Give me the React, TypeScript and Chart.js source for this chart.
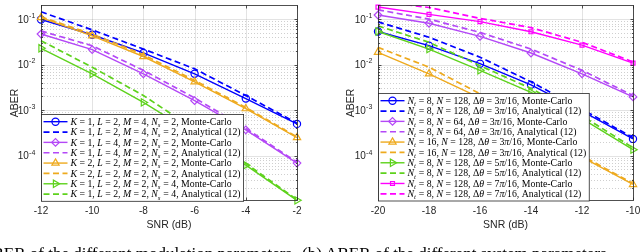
import React, { useEffect, useRef } from 'react';
import { Chart, registerables } from 'chart.js';
import { drawPoint } from 'chart.js/helpers';

Chart.register(...registerables);

// ---------------- data ----------------
const SNR_A = [-12, -10, -8, -6, -4, -2];
const SNR_B = [-20, -18, -16, -14, -12, -10];

// (a) modulation parameters
const A_BLUE_MC = [0.098, 0.0454, 0.0181, 0.0063, 0.0018, 0.0005];
const A_BLUE_AN = [0.145, 0.058, 0.022, 0.0081, 0.0021, 0.00052];
const A_PURPLE_MC = [0.047, 0.0214, 0.0063, 0.00162, 0.00037, 0.000069];
const A_PURPLE_AN = [0.055, 0.026, 0.0075, 0.00186, 0.0004, 0.000072];
const A_ORANGE_MC = [0.108, 0.043, 0.0151, 0.0042, 0.00108, 0.00025];
const A_ORANGE_AN = [0.112, 0.047, 0.0165, 0.0045, 0.00115, 0.00026];
const A_GREEN_MC = [0.0229, 0.0063, 0.00148, 0.0003, 0.000062, 0.0000105];
const A_GREEN_AN = [0.0336, 0.0088, 0.0021, 0.00038, 0.000068, 0.0000108];

// (b) system parameters
const B_BLUE_MC = [0.0535, 0.0261, 0.0105, 0.0036, 0.00095, 0.000234];
const B_BLUE_AN = [0.087, 0.04, 0.0146, 0.0042, 0.00105, 0.00025];
const B_PURPLE_MC = [0.123, 0.081, 0.0417, 0.018, 0.0063, 0.00196];
const B_PURPLE_AN = [0.16, 0.1, 0.051, 0.022, 0.0075, 0.0021];
const B_ORANGE_MC = [0.0187, 0.0063, 0.00186, 0.00045, 0.000093, 0.0000234];
const B_ORANGE_AN = [0.024, 0.0088, 0.0023, 0.00053, 0.0001, 0.0000245];
const B_GREEN_MC = [0.0535, 0.022, 0.0075, 0.00245, 0.00065, 0.000136];
const B_GREEN_AN = [0.071, 0.031, 0.0095, 0.003, 0.00075, 0.00015];
const B_MAGENTA_MC = [0.184, 0.127, 0.088, 0.0527, 0.0269, 0.0108];
const B_MAGENTA_AN = [0.25, 0.18, 0.104, 0.065, 0.031, 0.0115];

const LABELS_A = [
  '$K$ = 1, $L$ = 2, $M$ = 4, $N_s$ = 2, Monte-Carlo',
  '$K$ = 1, $L$ = 2, $M$ = 4, $N_s$ = 2, Analytical (12)',
  '$K$ = 1, $L$ = 4, $M$ = 2, $N_s$ = 2, Monte-Carlo',
  '$K$ = 1, $L$ = 4, $M$ = 2, $N_s$ = 2, Analytical (12)',
  '$K$ = 2, $L$ = 2, $M$ = 2, $N_s$ = 2, Monte-Carlo',
  '$K$ = 2, $L$ = 2, $M$ = 2, $N_s$ = 2, Analytical (12)',
  '$K$ = 1, $L$ = 2, $M$ = 2, $N_s$ = 4, Monte-Carlo',
  '$K$ = 1, $L$ = 2, $M$ = 2, $N_s$ = 4, Analytical (12)',
];
const LABELS_B = [
  '$N_t$ = 8, $N$ = 128, Δ$θ$ = 3$π$/16, Monte-Carlo',
  '$N_t$ = 8, $N$ = 128, Δ$θ$ = 3$π$/16, Analytical (12)',
  '$N_t$ = 8, $N$ = 64, Δ$θ$ = 3$π$/16, Monte-Carlo',
  '$N_t$ = 8, $N$ = 64, Δ$θ$ = 3$π$/16, Analytical (12)',
  '$N_t$ = 16, $N$ = 128, Δ$θ$ = 3$π$/16, Monte-Carlo',
  '$N_t$ = 16, $N$ = 128, Δ$θ$ = 3$π$/16, Analytical (12)',
  '$N_t$ = 8, $N$ = 128, Δ$θ$ = 5$π$/16, Monte-Carlo',
  '$N_t$ = 8, $N$ = 128, Δ$θ$ = 5$π$/16, Analytical (12)',
  '$N_t$ = 8, $N$ = 128, Δ$θ$ = 7$π$/16, Monte-Carlo',
  '$N_t$ = 8, $N$ = 128, Δ$θ$ = 7$π$/16, Analytical (12)',
];

const X_TITLE = 'SNR (dB)';
const Y_TITLE = 'ABER';
const CAPTION_A = 'ABER of the different modulation parameters';
const CAPTION_B = '(b) ABER of the different system parameters';
const Y_MIN = 1.04e-5;
const Y_MAX = 0.2;

// ---------------- styles ----------------
const BLUE = '#0000FF';
const PURPLE = '#B448F7';
const ORANGE = '#EEAA1E';
const GREEN = '#5ED21C';
const MAGENTA = '#FF00FF';
const AXIS = '#262626';
const SANS = '"Liberation Sans", Arial, sans-serif';
const SERIF = '"Liberation Serif", "Times New Roman", serif';
const LEGEND_FONT = 9.8;
const ROW_H = 10.35;

type Marker = { style: string; rot: number; r: number };
const M_CIRCLE: Marker = { style: 'circle', rot: 0, r: 3.6 };
const M_DIAMOND: Marker = { style: 'rectRot', rot: 0, r: 3.8 };
const M_TRI_UP: Marker = { style: 'triangle', rot: 0, r: 4.2 };
const M_TRI_RIGHT: Marker = { style: 'triangle', rot: 90, r: 4.2 };
const M_SQUARE: Marker = { style: 'rect', rot: 0, r: 2.8 };

type Series = { values: number[]; color: string; dashed: boolean; marker: Marker };

const SERIES_A: Series[] = [
  { values: A_BLUE_MC, color: BLUE, dashed: false, marker: M_CIRCLE },
  { values: A_BLUE_AN, color: BLUE, dashed: true, marker: M_CIRCLE },
  { values: A_PURPLE_MC, color: PURPLE, dashed: false, marker: M_DIAMOND },
  { values: A_PURPLE_AN, color: PURPLE, dashed: true, marker: M_DIAMOND },
  { values: A_ORANGE_MC, color: ORANGE, dashed: false, marker: M_TRI_UP },
  { values: A_ORANGE_AN, color: ORANGE, dashed: true, marker: M_TRI_UP },
  { values: A_GREEN_MC, color: GREEN, dashed: false, marker: M_TRI_RIGHT },
  { values: A_GREEN_AN, color: GREEN, dashed: true, marker: M_TRI_RIGHT },
];
const SERIES_B: Series[] = [
  { values: B_BLUE_MC, color: BLUE, dashed: false, marker: M_CIRCLE },
  { values: B_BLUE_AN, color: BLUE, dashed: true, marker: M_CIRCLE },
  { values: B_PURPLE_MC, color: PURPLE, dashed: false, marker: M_DIAMOND },
  { values: B_PURPLE_AN, color: PURPLE, dashed: true, marker: M_DIAMOND },
  { values: B_ORANGE_MC, color: ORANGE, dashed: false, marker: M_TRI_UP },
  { values: B_ORANGE_AN, color: ORANGE, dashed: true, marker: M_TRI_UP },
  { values: B_GREEN_MC, color: GREEN, dashed: false, marker: M_TRI_RIGHT },
  { values: B_GREEN_AN, color: GREEN, dashed: true, marker: M_TRI_RIGHT },
  { values: B_MAGENTA_MC, color: MAGENTA, dashed: false, marker: M_SQUARE },
  { values: B_MAGENTA_AN, color: MAGENTA, dashed: true, marker: M_SQUARE },
];

// rich text: $...$ = math (italic letters, _x subscript)
function richText(ctx: CanvasRenderingContext2D, text: string, x: number, y: number, size: number, draw: boolean): number {
  const parts = text.split('$');
  let cx = x;
  parts.forEach((p, i) => {
    if (i % 2 === 0) {
      ctx.font = `${size}px ${SERIF}`;
      if (draw) ctx.fillText(p, cx, y);
      cx += ctx.measureText(p).width;
    } else {
      let j = 0;
      while (j < p.length) {
        const ch = p[j];
        if (ch === '_') {
          const s = p[j + 1];
          ctx.font = `italic ${size * 0.7}px ${SERIF}`;
          if (draw) ctx.fillText(s, cx, y + size * 0.22);
          cx += ctx.measureText(s).width + 0.3;
          j += 2;
          continue;
        }
        ctx.font = `italic ${size}px ${SERIF}`;
        if (draw) ctx.fillText(ch, cx, y);
        cx += ctx.measureText(ch).width;
        j++;
      }
    }
  });
  return cx - x;
}

type PanelCfg = {
  xs: number[];
  series: Series[];
  labels: string[];
  axisLeft: number;
  axisRight: number;
  yTitlePad: number;
};

function makeChart(canvas: HTMLCanvasElement, cfg: PanelCfg): Chart {
  const W = canvas.width;
  const H = canvas.height;
  const top = 2.5;
  const bottom = 200.5;
  const xMin = cfg.xs[0];
  const xMax = cfg.xs[cfg.xs.length - 1];

  const datasets = cfg.series.map((s, i) => ({
    label: cfg.labels[i],
    data: s.values.map((v, k) => ({ x: cfg.xs[k], y: v })),
    borderColor: s.color,
    backgroundColor: s.color,
    borderWidth: s.dashed ? 1.7 : 1.4,
    borderDash: s.dashed ? [6, 3.5] : [],
    pointRadius: s.dashed ? 0 : s.marker.r,
    pointStyle: s.marker.style as any,
    pointRotation: s.marker.rot,
    pointBorderWidth: 1.2,
    pointBorderColor: s.color,
    pointBackgroundColor: 'rgba(0,0,0,0)',
    tension: 0,
    order: -i,
    clip: s.dashed ? { left: 2, right: 2, top: 0, bottom: 2 } : { left: 6, right: 6, top: 4, bottom: 6 },
  }));

  const axesPlugin = {
    id: 'matlabAxes',
    beforeDatasetsDraw(chart: any) {
      const { ctx, chartArea: ca } = chart;
      const xs = chart.scales.x;
      const ys = chart.scales.y;
      ctx.save();
      ctx.lineWidth = 0.8;
      ctx.strokeStyle = 'rgba(38,38,38,0.28)';
      ctx.setLineDash([1, 2]);
      for (let e = -6; e <= 0; e++) {
        for (let m = 2; m <= 9; m++) {
          const v = m * Math.pow(10, e);
          if (v <= Y_MIN || v >= Y_MAX) continue;
          const py = Math.round(ys.getPixelForValue(v)) + 0.5;
          ctx.beginPath();
          ctx.moveTo(ca.left, py);
          ctx.lineTo(ca.right, py);
          ctx.stroke();
        }
      }
      ctx.setLineDash([]);
      ctx.strokeStyle = 'rgba(38,38,38,0.13)';
      ctx.lineWidth = 1;
      for (let e = -6; e <= 0; e++) {
        const v = Math.pow(10, e);
        if (v <= Y_MIN || v >= Y_MAX) continue;
        const py = Math.round(ys.getPixelForValue(v)) + 0.5;
        ctx.beginPath();
        ctx.moveTo(ca.left, py);
        ctx.lineTo(ca.right, py);
        ctx.stroke();
      }
      cfg.xs.forEach((xv) => {
        const px = Math.round(xs.getPixelForValue(xv)) + 0.5;
        ctx.beginPath();
        ctx.moveTo(px, ca.top);
        ctx.lineTo(px, ca.bottom);
        ctx.stroke();
      });
      ctx.restore();
    },
    afterDraw(chart: any) {
      const { ctx, chartArea: ca } = chart;
      const xs = chart.scales.x;
      const ys = chart.scales.y;
      ctx.save();
      const L = Math.round(ca.left) + 0.5;
      const R = Math.round(ca.right) + 0.5;
      const T = Math.round(ca.top) + 0.5;
      const B = Math.round(ca.bottom) - 0.5;
      ctx.strokeStyle = AXIS;
      ctx.lineWidth = 0.8;
      ctx.strokeRect(L, T, R - L, B - T);
      ctx.beginPath();
      cfg.xs.forEach((xv) => {
        const px = Math.round(xs.getPixelForValue(xv)) + 0.5;
        ctx.moveTo(px, B);
        ctx.lineTo(px, B - 3);
        ctx.moveTo(px, T);
        ctx.lineTo(px, T + 3);
      });
      for (let e = -6; e <= 0; e++) {
        for (let m = 1; m <= 9; m++) {
          const v = m * Math.pow(10, e);
          if (v <= Y_MIN || v >= Y_MAX) continue;
          const len = m === 1 ? 3 : 1.6;
          const py = Math.round(ys.getPixelForValue(v)) + 0.5;
          ctx.moveTo(L, py);
          ctx.lineTo(L + len, py);
          ctx.moveTo(R, py);
          ctx.lineTo(R - len, py);
        }
      }
      ctx.stroke();
      ctx.fillStyle = AXIS;
      ctx.textBaseline = 'alphabetic';
      ctx.textAlign = 'left';
      for (let e = -6; e <= 0; e++) {
        const v = Math.pow(10, e);
        if (v < Y_MIN || v > Y_MAX) continue;
        const py = ys.getPixelForValue(v);
        const sup = String(e);
        ctx.font = `7px ${SANS}`;
        const sw = ctx.measureText(sup).width;
        ctx.font = `10px ${SANS}`;
        const bw = ctx.measureText('10').width;
        const xEnd = ca.left - 6;
        const x0 = xEnd - sw - bw;
        ctx.fillText('10', x0, py + 3.6);
        ctx.font = `7px ${SANS}`;
        ctx.fillText(sup, x0 + bw + 0.3, py - 1.2);
      }
      // legend
      const n = cfg.labels.length;
      let maxW = 0;
      cfg.labels.forEach((lab) => {
        maxW = Math.max(maxW, richText(ctx, lab, 0, 0, LEGEND_FONT, false));
      });
      const bw = 29 + maxW + 3;
      const bh = n * ROW_H + 4;
      const bx = L;
      const by = Math.round(ca.bottom - bh) + 0.5;
      ctx.fillStyle = '#ffffff';
      ctx.fillRect(bx, by, bw, bh);
      ctx.strokeStyle = AXIS;
      ctx.lineWidth = 0.8;
      ctx.strokeRect(bx, by, bw, bh);
      cfg.series.forEach((s, i) => {
        const cy = by + 2 + ROW_H * (i + 0.5);
        ctx.save();
        ctx.strokeStyle = s.color;
        ctx.lineWidth = s.dashed ? 1.7 : 1.4;
        ctx.setLineDash(s.dashed ? [6, 3.5] : []);
        ctx.beginPath();
        ctx.moveTo(bx + 2, cy);
        ctx.lineTo(bx + 26, cy);
        ctx.stroke();
        ctx.setLineDash([]);
        if (!s.dashed) {
          ctx.lineWidth = 1.2;
          ctx.fillStyle = 'rgba(0,0,0,0)';
          drawPoint(ctx, { pointStyle: s.marker.style as any, rotation: s.marker.rot, radius: s.marker.r, borderWidth: 1.2 } as any, bx + 14, cy);
        }
        ctx.restore();
        ctx.fillStyle = '#000';
        ctx.textAlign = 'left';
        ctx.textBaseline = 'alphabetic';
        richText(ctx, cfg.labels[i], bx + 29, cy + LEGEND_FONT * 0.33, LEGEND_FONT, true);
      });
      ctx.restore();
    },
  };

  return new Chart(canvas, {
    type: 'line',
    data: { datasets: datasets as any },
    plugins: [axesPlugin],
    options: {
      responsive: false,
      animation: false,
      events: [],
      layout: { padding: { left: 0, right: W - cfg.axisRight, top, bottom: 0 } },
      plugins: { legend: { display: false }, tooltip: { enabled: false } },
      scales: {
        x: {
          type: 'linear',
          min: xMin,
          max: xMax,
          grid: { display: false, drawTicks: false },
          border: { display: false },
          ticks: {
            stepSize: 2,
            autoSkip: false,
            maxRotation: 0,
            padding: 4.5,
            color: AXIS,
            font: { family: SANS, size: 10 },
            callback: (v: any) => String(v),
          },
          title: {
            display: true,
            text: X_TITLE,
            color: AXIS,
            font: { family: SANS, size: 10.5 },
            padding: { top: 0, bottom: 20.7 },
          },
          afterFit: (s: any) => {
            s.height = H - bottom;
            s.paddingLeft = 0;
            s.paddingRight = 0;
          },
        },
        y: {
          type: 'logarithmic',
          min: Y_MIN,
          max: Y_MAX,
          grid: { display: false, drawTicks: false },
          border: { display: false },
          ticks: { display: false },
          title: {
            display: true,
            text: Y_TITLE,
            color: AXIS,
            font: { family: SANS, size: 10.5 },
            padding: { top: cfg.yTitlePad, bottom: 0 },
          },
          afterFit: (s: any) => {
            s.width = cfg.axisLeft;
            s.paddingTop = 0;
            s.paddingBottom = 0;
          },
        },
      },
    } as any,
  });
}

export default function App() {
  const refA = useRef<HTMLCanvasElement>(null);
  const refB = useRef<HTMLCanvasElement>(null);

  useEffect(() => {
    const a = makeChart(refA.current!, {
      xs: SNR_A,
      series: SERIES_A,
      labels: LABELS_A,
      axisLeft: 41,
      axisRight: 297,
      yTitlePad: 9,
    });
    const b = makeChart(refB.current!, {
      xs: SNR_B,
      series: SERIES_B,
      labels: LABELS_B,
      axisLeft: 58,
      axisRight: 313,
      yTitlePad: 25,
    });
    return () => {
      a.destroy();
      b.destroy();
    };
  }, []);

  const capStyle: React.CSSProperties = {
    position: 'absolute',
    top: 244.5,
    fontFamily: SERIF,
    fontSize: 17,
    lineHeight: '17px',
    whiteSpace: 'nowrap',
    color: '#000',
  };

  return (
    <div style={{ position: 'fixed', left: 0, top: 0, width: 640, height: 252, overflow: 'hidden', background: '#fff' }}>
      <canvas ref={refA} width={320} height={252} style={{ position: 'absolute', left: 0, top: 0, display: 'block' }} />
      <canvas ref={refB} width={320} height={252} style={{ position: 'absolute', left: 320, top: 0, display: 'block' }} />
      <div style={{ ...capStyle, right: 640 - 292, textAlign: 'right' }}>{CAPTION_A}</div>
      <div style={{ ...capStyle, left: 302 }}>{CAPTION_B}</div>
    </div>
  );
}
